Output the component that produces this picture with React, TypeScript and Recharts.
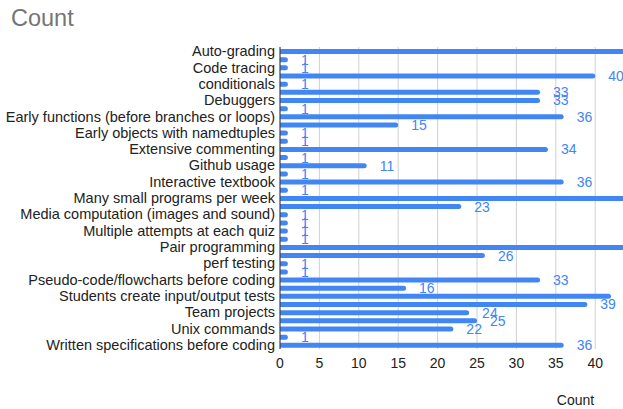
import React from "react";
import {
  BarChart,
  Bar,
  XAxis,
  YAxis,
  CartesianGrid,
  LabelList,
  Label,
} from "recharts";

// Practices, sorted alphabetically; the axis prints every other name.
const practices = [
  "Auto-grading",
  "Code review",
  "Code tracing",
  "Coding style guides",
  "conditionals",
  "Course projects",
  "Debuggers",
  "Design recipe",
  "Early functions (before branches or loops)",
  "Early loops",
  "Early objects with namedtuples",
  "Exams on paper",
  "Extensive commenting",
  "Flipped classroom",
  "Github usage",
  "Gradual typing",
  "Interactive textbook",
  "Live coding",
  "Many small programs per week",
  "Mastery grading",
  "Media computation (images and sound)",
  "Mini-projects",
  "Multiple attempts at each quiz",
  "Office hours",
  "Pair programming",
  "Peer instruction",
  "perf testing",
  "Programming quizzes",
  "Pseudo-code/flowcharts before coding",
  "Reading code",
  "Students create input/output tests",
  "Style checking",
  "Team projects",
  "Test-driven development",
  "Unix commands",
  "Version control",
  "Written specifications before coding",
];

const counts = [
  44, 1, 1, 40, 1, 33, 33, 1, 36, 15, 1, 1, 34, 1, 11, 1, 36, 1, 46, 23, 1,
  1, 1, 1, 45, 26, 1, 1, 33, 16, 42, 39, 24, 25, 22, 1, 36,
];

const xTicks = [0, 5, 10, 15, 20, 25, 30, 35, 40, 45, 50, 55, 60, 65, 70, 75];

const rows = practices.map((name, i) => ({ name, count: counts[i] }));

const BLUE = "#4285f4";
const FONT = "Arial, 'Liberation Sans', sans-serif";

export default function App() {
  return (
    <div
      style={{
        position: "fixed",
        left: 0,
        top: 0,
        width: 623,
        height: 409,
        overflow: "hidden",
        background: "#fff",
        fontFamily: FONT,
      }}
    >
      <div
        style={{
          position: "absolute",
          left: 11,
          top: 5,
          fontSize: 23.5,
          color: "#757575",
        }}
      >
        Count
      </div>
      <BarChart
        width={900}
        height={409}
        data={rows}
        layout="vertical"
        margin={{ top: 47, right: 29, bottom: 2, left: 0 }}
        barSize={5}
      >
        <CartesianGrid horizontal={false} stroke="#d0d0d0" />
        <XAxis
          type="number"
          domain={[0, 75]}
          ticks={xTicks}
          interval={0}
          axisLine={false}
          tickLine={false}
          tickSize={7}
          height={58}
          tick={{ fontSize: 14, fill: "#222", fontFamily: FONT }}
        >
          <Label
            value="Count"
            position="insideBottom"
            offset={2}
            style={{ fontSize: 14, fill: "#222", fontFamily: FONT }}
          />
        </XAxis>
        <YAxis
          type="category"
          dataKey="name"
          width={280}
          interval={1}
          tickLine={false}
          tickSize={3}
          tickMargin={2}
          axisLine={{ stroke: "#333" }}
          tick={{ fontSize: 14.5, fill: "#222", fontFamily: FONT }}
        />
        <Bar
          dataKey="count"
          fill={BLUE}
          radius={[0, 2.5, 2.5, 0]}
          isAnimationActive={false}
        >
          <LabelList
            dataKey="count"
            position="right"
            offset={13}
            style={{ fontSize: 14, fill: BLUE, fontFamily: FONT }}
          />
        </Bar>
      </BarChart>
    </div>
  );
}
